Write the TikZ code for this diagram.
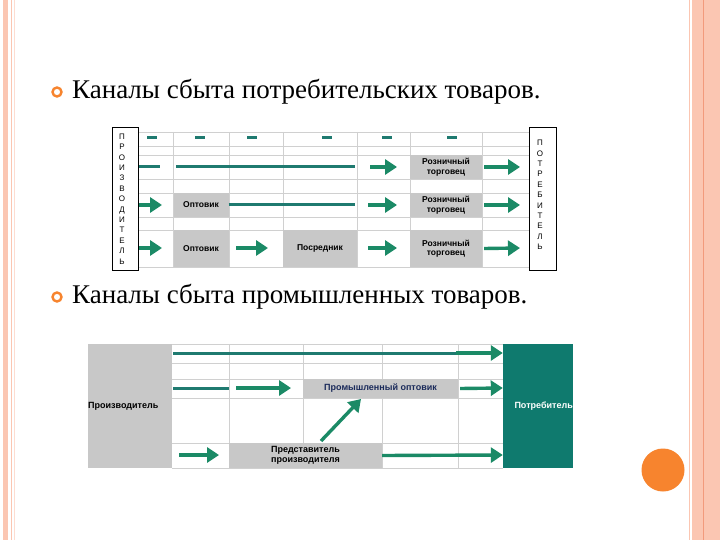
\documentclass[tikz,border=0pt]{standalone}
\usepackage{fontspec}
\setsansfont{Liberation Sans}
\setmainfont{Liberation Serif}
\usetikzlibrary{arrows.meta}
\definecolor{tealL}{HTML}{1F7A70}
\definecolor{arrG}{HTML}{1B8A66}
\definecolor{greyB}{HTML}{C8C8C8}
\definecolor{gridC}{HTML}{D0D0D0}
\definecolor{pinkB}{HTML}{FBC6B2}
\definecolor{pinkD}{HTML}{F29A7C}
\definecolor{orangeC}{HTML}{F7842E}
\definecolor{tealBox}{HTML}{0F7A6E}
\definecolor{navyT}{HTML}{1A2A5A}
\begin{document}
\begin{tikzpicture}[x=1pt,y=-1pt,
  gbox/.style={fill=greyB,inner sep=0pt,font=\sffamily\bfseries\fontsize{8.5}{9.5}\selectfont,align=center},
  gline/.style={draw=gridC,line width=0.6pt},
  tline/.style={draw=tealL,line width=3pt},
  garr/.style={draw=arrG,line width=3.4pt,-{Triangle[length=12pt,width=15pt]}},
  dashm/.style={draw=tealL,line width=3pt},
  vlet/.style={font=\sffamily\fontsize{8}{10.4}\selectfont,align=center,inner sep=0pt},
  bul/.style={circle,draw=orangeC,line width=2.4pt,inner sep=0pt,minimum size=9pt},
  head/.style={font=\fontsize{27}{30}\selectfont,anchor=west,inner sep=0pt}]
\useasboundingbox (0,0) rectangle (720,540);
\fill[white] (0,0) rectangle (720,540);
% side bands
\fill[pinkB] (3,0) rectangle (8,540);
\draw[pinkB,line width=0.8pt] (11,0) -- (11,540);
\draw[pinkB!60,line width=0.6pt] (14,0) -- (14,540);
\draw[pinkB,line width=0.8pt] (689,0) -- (689,540);
\fill[pinkB] (692,0) rectangle (720,540);
\draw[pinkD,line width=0.8pt] (703,0) -- (703,540);
\node[circle,fill=orangeC,minimum size=43pt,inner sep=0pt] (dot) at (663,470) {};
% headings
\node[bul] (b1) at (57,92) {};
\node[head] (h1) at (72,92) {Каналы сбыта потребительских товаров.};
\node[bul] (b2) at (57,297) {};
\node[head] (h2) at (72,297) {Каналы сбыта промышленных товаров.};
% ---------- top table ----------
\foreach \y in {132,146,155,179,193,217,230,267} \draw[gline] (138,\y) -- (529,\y);
\foreach \x in {173,229,283,357,410,482} \draw[gline] (\x,132) -- (\x,267);
\node[gbox,minimum width=72pt,minimum height=24pt] (r1) at (446,167) {Розничный\\торговец};
\node[gbox,minimum width=55pt,minimum height=24pt] (o2) at (201,205) {Оптовик};
\node[gbox,minimum width=72pt,minimum height=24pt] (r2) at (446,205) {Розничный\\торговец};
\node[gbox,minimum width=55pt,minimum height=37pt] (o3) at (201,248.5) {Оптовик};
\node[gbox,minimum width=74pt,minimum height=37pt] (p3) at (320,248.5) {Посредник};
\node[gbox,minimum width=72pt,minimum height=37pt] (r3) at (446,248.5) {Розничный\\торговец};
\draw[black,line width=0.7pt,fill=white] (112,127) rectangle (138,270);
\draw[black,line width=0.7pt,fill=white] (529,127) rectangle (556,270);
\node[vlet] (prod) at (122,199) {П\\Р\\О\\И\\З\\В\\О\\Д\\И\\Т\\Е\\Л\\Ь};
\node[vlet] (potr) at (540,195) {П\\О\\Т\\Р\\Е\\Б\\И\\Т\\Е\\Л\\Ь};
\foreach \x in {152,200,252,327,387,452} \draw[dashm] (\x-5,138) -- (\x+5,138);
\coordinate (Rt) at (520,0);
% row 1
\draw[tline] (139,167) -- (160,167);
\draw[tline] (176,167) -- (355,167);
\draw[garr] (370,167) -- (397,167);
\draw[garr] ([xshift=2pt]r1.east) -- (Rt |- r1.east);
% row 2
\draw[garr] (139,205) -- (162,205);
\draw[tline] (o2.east) -- (355,205);
\draw[garr] (368,205) -- (397,205);
\draw[garr] ([xshift=2pt]r2.east) -- (Rt |- r2.east);
% row 3
\draw[garr] (139,248) -- (162,248);
\draw[garr] (236,248) -- (268,248);
\draw[garr] (368,248) -- (397,248);
\draw[garr] ([xshift=2pt]r3.east) -- (Rt |- 0,248);
% ---------- bottom table ----------
\foreach \y in {344,363,379,398,443,468} \draw[gline] (172,\y) -- (503,\y);
\foreach \x in {229,303,382,458} \draw[gline] (\x,344) -- (\x,468);
\node[fill=greyB,minimum width=84pt,minimum height=124pt,inner sep=0pt] (P) at (130,406) {};
\node[font=\sffamily\bfseries\fontsize{9}{10}\selectfont,inner sep=0pt,anchor=west] (Pt) at (88,406) {Производитель};
\node[fill=tealBox,minimum width=70pt,minimum height=124pt,inner sep=0pt] (C) at (538,406) {};
\node[font=\sffamily\bfseries\fontsize{9}{10}\selectfont,text=white,inner sep=0pt,anchor=east] (Ct) at (573,406) {Потребитель};
\node[gbox,minimum width=155pt,minimum height=19pt,text=navyT,font=\sffamily\bfseries\fontsize{9}{10}\selectfont] (W) at (380.5,388.5) {Промышленный оптовик};
\node[gbox,minimum width=153pt,minimum height=25pt,font=\sffamily\bfseries\fontsize{9}{10}\selectfont] (R) at (305.5,455.5) {Представитель\\производителя};
\draw[tline] (173,353) -- (458,353);
\draw[garr] (456,353) -- (C.west |- 0,353);
\draw[tline] (173,388) -- (229,388);
\draw[garr] (236,388) -- (291,388);
\draw[garr] ([xshift=2pt]W.east) -- (C.west |- 0,388);
\draw[garr] (321,441) -- (361,399);
\draw[garr] (179,455) -- (219,455);
\draw[garr] (R.east) -- (C.west |- 0,455);
\end{tikzpicture}
\end{document}
